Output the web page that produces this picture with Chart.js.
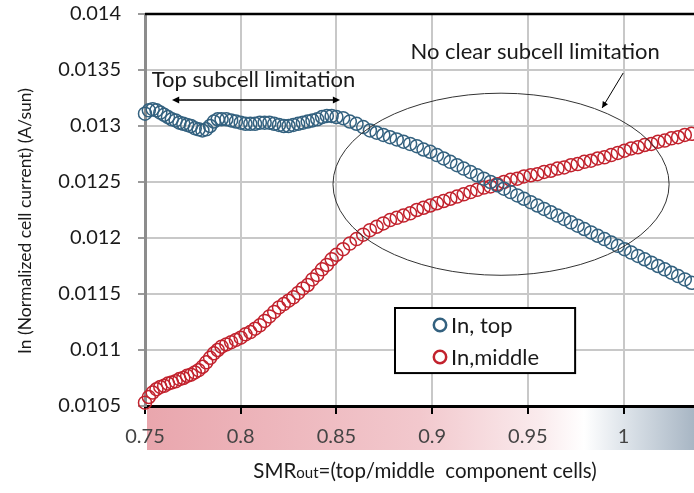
<!DOCTYPE html>
<html>
<head>
<meta charset="utf-8">
<script src="https://cdn.jsdelivr.net/npm/chart.js@4.4.1/dist/chart.umd.min.js"></script>
<style>
  html, body { margin: 0; padding: 0; background: #fff; }
  #wrap { width: 694px; height: 493px; }
</style>
</head>
<body>
<div id="wrap"><canvas id="smrChart" width="694" height="493"></canvas></div>
<script>
// SMR sweep (x)
const smrValues = [
  0.750, 0.752, 0.754, 0.756, 0.758, 0.760, 0.762, 0.764, 0.766, 0.768, 0.770,
  0.772, 0.774, 0.776, 0.778, 0.780, 0.782, 0.784, 0.786, 0.788, 0.790,
  0.7925, 0.795, 0.7975, 0.800, 0.8025, 0.805, 0.8075, 0.810, 0.8125, 0.815,
  0.8175, 0.820, 0.8225, 0.825, 0.8275, 0.830, 0.8325, 0.835, 0.8375, 0.840,
  0.8425, 0.845, 0.8475, 0.850,
  0.8535, 0.857, 0.8605, 0.864, 0.8675, 0.871, 0.8745, 0.878, 0.8815, 0.885,
  0.8885, 0.892, 0.8955, 0.899, 0.9025, 0.906, 0.9095, 0.913, 0.9165, 0.920,
  0.9235, 0.927, 0.9305, 0.934, 0.9375, 0.941, 0.9445, 0.948, 0.9515, 0.955,
  0.9585, 0.962, 0.9655, 0.969, 0.9725, 0.976, 0.9795, 0.983, 0.9865, 0.990,
  0.9935, 0.997, 1.0005, 1.004, 1.0075, 1.011, 1.0145, 1.018, 1.0215, 1.025,
  1.0285, 1.032, 1.0355
];

// In, top
const topCurrent = [
  0.01311, 0.01314, 0.01315, 0.01314, 0.01312, 0.01310, 0.01308, 0.01306, 0.01305, 0.01303, 0.01302,
  0.01301, 0.01300, 0.01298, 0.01297, 0.01296, 0.01297, 0.01300, 0.01304, 0.01306, 0.01306,
  0.01306, 0.01305, 0.01304, 0.01303, 0.01302, 0.01302, 0.01302, 0.01303, 0.01303, 0.01303,
  0.01302, 0.01301, 0.01300, 0.01300, 0.01301, 0.01302, 0.01303, 0.01304, 0.01305, 0.01306,
  0.01308, 0.01309, 0.01309, 0.01308,
  0.01307, 0.01304, 0.01302, 0.01299, 0.01296, 0.01294, 0.01292, 0.01290, 0.01288, 0.01286,
  0.01284, 0.01282, 0.01279, 0.01277, 0.01274, 0.01271, 0.01268, 0.01265, 0.01262, 0.01259,
  0.01256, 0.01253, 0.01250, 0.01247, 0.01244, 0.01241, 0.01238, 0.01235, 0.01232, 0.01229,
  0.01226, 0.01223, 0.01220, 0.01217, 0.01214, 0.01211, 0.01208, 0.01205, 0.01202, 0.01199,
  0.01196, 0.01193, 0.01190, 0.01187, 0.01184, 0.01181, 0.01178, 0.01175, 0.01172, 0.01169,
  0.01166, 0.01163, 0.01160
];

// In, middle
const middleCurrent = [
  0.01053, 0.01058, 0.01062, 0.01065, 0.01067, 0.01068, 0.01070, 0.01071, 0.01072, 0.01074, 0.01075,
  0.01077, 0.01078, 0.01080, 0.01082, 0.01085, 0.01089, 0.01093, 0.01097, 0.01100, 0.01103,
  0.01105, 0.01107, 0.01109, 0.01111, 0.01114, 0.01116, 0.01119, 0.01122, 0.01126, 0.01130,
  0.01134, 0.01138, 0.01141, 0.01144, 0.01147, 0.01151, 0.01155, 0.01158, 0.01163, 0.01167,
  0.01172, 0.01176, 0.01181, 0.01185,
  0.01190, 0.01195, 0.01199, 0.01203, 0.01207, 0.01210, 0.01213, 0.01216, 0.01218, 0.01220,
  0.01222, 0.01225, 0.01227, 0.01229, 0.01231, 0.01233, 0.01235, 0.01237, 0.01239, 0.01241,
  0.01243, 0.01245, 0.01246, 0.01248, 0.01250, 0.01252, 0.01253, 0.01255, 0.01256, 0.01257,
  0.01259, 0.01260, 0.01262, 0.01263, 0.01265, 0.01266, 0.01268, 0.01269, 0.01271, 0.01272,
  0.01274, 0.01276, 0.01278, 0.01280, 0.01281, 0.01283, 0.01284, 0.01286, 0.01287, 0.01289,
  0.01290, 0.01292, 0.01293
];

const seriesLabels = ["In, top", "In,middle"];
const xTickValues = [0.75, 0.8, 0.85, 0.9, 0.95, 1];
const yTickValues = [0.0105, 0.011, 0.0115, 0.012, 0.0125, 0.013, 0.0135, 0.014];

const blue = "#33617f";
const red = "#c2222d";
const fontFamily = "Lato";

const toPoints = (ys) => smrValues.map((x, i) => ({ x: x, y: ys[i] }));

function arrowHead(ctx, x1, y1, x2, y2, size) {
  const a = Math.atan2(y2 - y1, x2 - x1);
  ctx.beginPath();
  ctx.moveTo(x2, y2);
  ctx.lineTo(x2 - size * Math.cos(a - 0.45), y2 - size * Math.sin(a - 0.45));
  ctx.lineTo(x2 - size * Math.cos(a + 0.45), y2 - size * Math.sin(a + 0.45));
  ctx.closePath();
  ctx.fill();
}

const decorations = {
  id: "decorations",
  beforeDraw(chart) {
    // shaded band behind the x tick labels
    const { ctx, chartArea } = chart;
    const g = ctx.createLinearGradient(chartArea.left, 0, chartArea.right, 0);
    g.addColorStop(0, "#e9a6ad");
    g.addColorStop(0.5, "#f2c8cd");
    g.addColorStop(0.72, "#faebed");
    g.addColorStop(0.8, "#ffffff");
    g.addColorStop(0.87, "#dfe5eb");
    g.addColorStop(1, "#a8b6c4");
    ctx.save();
    ctx.fillStyle = g;
    ctx.fillRect(chartArea.left + 2, chartArea.bottom, chartArea.right - chartArea.left - 2, 44);
    ctx.restore();
  },
  afterDatasetsDraw(chart) {
    const { ctx, chartArea } = chart;
    const xs = chart.scales.x;
    const ys = chart.scales.y;
    const px = (v) => xs.getPixelForValue(v);
    const py = (v) => ys.getPixelForValue(v);
    ctx.save();

    // top frame line
    ctx.strokeStyle = "#000";
    ctx.lineWidth = 2.5;
    ctx.beginPath();
    ctx.moveTo(chartArea.left, chartArea.top);
    ctx.lineTo(chartArea.right, chartArea.top);
    ctx.stroke();

    // ellipse around the crossing
    const cx = px(0.936), cy = py(0.01248);
    ctx.strokeStyle = "#333";
    ctx.lineWidth = 1;
    ctx.beginPath();
    ctx.ellipse(cx, cy, px(0.936 + 0.0878) - cx, py(0.01248 - 0.000813) - cy, 0, 0, Math.PI * 2);
    ctx.stroke();

    // double arrow for top subcell limitation
    ctx.fillStyle = "#000";
    ctx.strokeStyle = "#000";
    ctx.lineWidth = 1.5;
    const ax1 = px(0.7641), ax2 = px(0.8519), ay = py(0.013232);
    ctx.beginPath();
    ctx.moveTo(ax1 + 4, ay);
    ctx.lineTo(ax2 - 4, ay);
    ctx.stroke();
    arrowHead(ctx, ax2, ay, ax1, ay, 8);
    arrowHead(ctx, ax1, ay, ax2, ay, 8);

    // pointer arrow for ellipse
    const bx1 = px(0.9998), by1 = py(0.013473), bx2 = px(0.9888), by2 = py(0.013161);
    ctx.lineWidth = 1;
    ctx.beginPath();
    ctx.moveTo(bx1, by1);
    ctx.lineTo(bx2, by2);
    ctx.stroke();
    arrowHead(ctx, bx1, by1, bx2, by2, 7);

    // annotation texts
    ctx.fillStyle = "#1a1a1a";
    ctx.font = "22px " + fontFamily;
    ctx.textAlign = "center";
    ctx.textBaseline = "middle";
    ctx.fillText("Top subcell limitation", px(0.8067), py(0.013411));
    ctx.fillText("No clear subcell limitation", px(0.9538), py(0.013661));

    // legend box
    const lx = px(0.8806), rx = px(0.9747), ty = py(0.011375), by = py(0.010794);
    ctx.fillStyle = "#fff";
    ctx.fillRect(lx, ty, rx - lx, by - ty);
    ctx.strokeStyle = "#000";
    ctx.lineWidth = 2;
    ctx.strokeRect(lx, ty, rx - lx, by - ty);
    const rows = [[blue, seriesLabels[0], 17], [red, seriesLabels[1], 49]];
    ctx.textAlign = "left";
    ctx.font = "22px " + fontFamily;
    rows.forEach(([c, label, dy]) => {
      ctx.strokeStyle = c;
      ctx.lineWidth = 2.5;
      ctx.beginPath();
      ctx.arc(lx + 45, ty + dy, 6.2, 0, Math.PI * 2);
      ctx.stroke();
      ctx.fillStyle = "#1a1a1a";
      ctx.fillText(label, lx + 56, ty + dy + 1);
    });
    ctx.restore();
  },
  afterDraw(chart) {
    const { ctx } = chart;
    ctx.save();
    ctx.fillStyle = "#1a1a1a";
    ctx.textBaseline = "alphabetic";
    // x axis title with small "out"
    const big = "20.5px " + fontFamily, small = "15px " + fontFamily;
    const parts = [["SMR", big], ["out", small], ["=(top/middle  component cells)", big]];
    let total = 0;
    parts.forEach(([t, f]) => { ctx.font = f; total += ctx.measureText(t).width; });
    let x = 425 - total / 2;
    const base = 478;
    parts.forEach(([t, f]) => {
      ctx.font = f;
      ctx.fillText(t, x, base);
      x += ctx.measureText(t).width;
    });
    // y axis title
    ctx.translate(25, 221);
    ctx.rotate(-Math.PI / 2);
    ctx.font = "17.5px " + fontFamily;
    ctx.textAlign = "center";
    ctx.textBaseline = "middle";
    ctx.fillText("In (Normalized cell current) (A/sun)", 0, 0);
    ctx.restore();
  }
};

const ctx = document.getElementById("smrChart");
new Chart(ctx, {
  type: "scatter",
  data: {
    datasets: [
      {
        label: seriesLabels[0],
        data: toPoints(topCurrent),
        borderColor: blue,
        backgroundColor: "rgba(0,0,0,0)",
        pointRadius: 6.5,
        pointBorderWidth: 1.5,
        clip: false,
      },
      {
        label: seriesLabels[1],
        data: toPoints(middleCurrent),
        borderColor: red,
        backgroundColor: "rgba(0,0,0,0)",
        pointRadius: 6.5,
        pointBorderWidth: 1.5,
        clip: false,
      },
    ],
  },
  options: {
    responsive: false,
    animation: false,
    layout: { autoPadding: false, padding: { top: 14, right: 0, left: 0, bottom: 0 } },
    plugins: { legend: { display: false }, tooltip: { enabled: false } },
    scales: {
      x: {
        type: "linear",
        min: 0.75,
        max: 1.0368,
        afterBuildTicks: (scale) => { scale.ticks = xTickValues.map((v) => ({ value: v })); },
        afterFit: (scale) => {
          scale.height = 87;
          scale.paddingLeft = 0;
          scale.paddingRight = 0;
        },
        ticks: {
          callback: (v) => String(v),
          color: "#444",
          font: { family: fontFamily, size: 20 },
          padding: 11,
          maxRotation: 0,
        },
        grid: { color: "#c8c8c8", lineWidth: 2, tickColor: "#000", tickLength: 8 },
        border: { color: "#000", width: 3 },
      },
      y: {
        type: "linear",
        min: 0.0105,
        max: 0.014,
        afterBuildTicks: (scale) => { scale.ticks = yTickValues.map((v) => ({ value: v })); },
        afterFit: (scale) => {
          scale.width = 145;
          scale.paddingTop = 0;
          scale.paddingBottom = 0;
        },
        ticks: {
          callback: (v) => String(v),
          color: "#1a1a1a",
          font: { family: fontFamily, size: 20 },
          padding: 17,
        },
        grid: { color: "#c8c8c8", lineWidth: 2, tickColor: "#9a9a9a", tickLength: 7 },
        border: { color: "#8c8c8c", width: 3 },
      },
    },
  },
  plugins: [decorations],
});
</script>
</body>
</html>
